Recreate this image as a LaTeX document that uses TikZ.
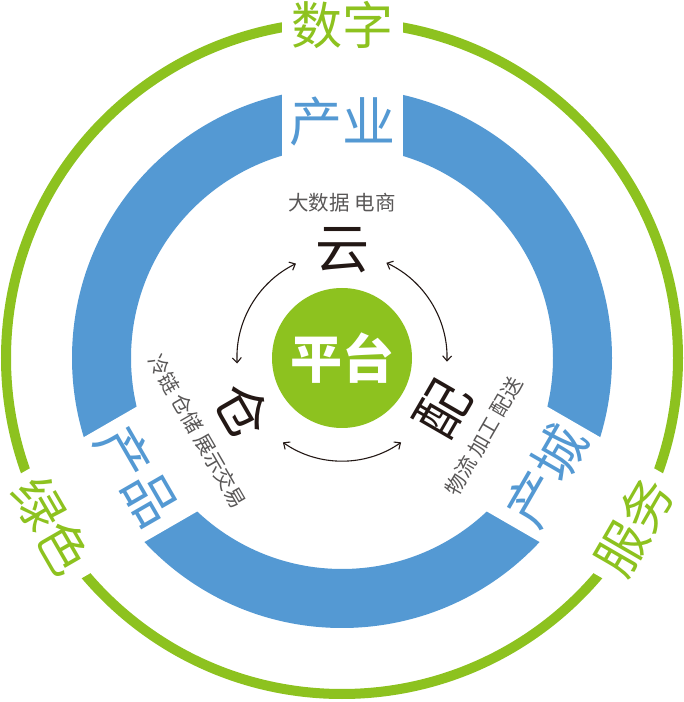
\documentclass[tikz,border=0pt]{standalone}
\usepackage{fontspec}
\newfontfamily\cjk{Noto Sans CJK SC}
\usetikzlibrary{arrows.meta,calc}
\definecolor{leaf}{HTML}{8DC21F}
\definecolor{sky}{HTML}{5499D3}
\definecolor{ash}{HTML}{595757}
\definecolor{ink}{HTML}{231815}
\tikzset{
  big/.style={font=\cjk\fontsize{51}{51}\selectfont, inner sep=0pt},
  bigblue/.style={big, text=sky, font=\cjk\fontsize{53}{53}\selectfont},
  biggreen/.style={big, text=leaf},
  core/.style={font=\cjk\fontsize{54}{54}\selectfont, text=ink, inner sep=0pt},
  small/.style={font=\cjk\fontsize{20.5}{20.5}\selectfont, text=ash, inner sep=0pt},
  arr/.style={draw=ink, line width=1.1pt, {Straight Barb[length=5pt,width=9pt]}-{Straight Barb[length=5pt,width=9pt]}},
}
\begin{document}
\begin{tikzpicture}[x=1pt,y=1pt]
\useasboundingbox (0,0) rectangle (684,702);
\fill[white] (0,0) rectangle (684,702);
\coordinate (C) at (342,344);
% green ring
\draw[leaf, line width=10pt] (C) circle[radius=336];
% blue ring
\fill[sky, even odd rule] (C) circle[radius=270] (C) circle[radius=211];
% gaps
\foreach \a in {90,210,330}{
  \begin{scope}[shift={(C)}, rotate=\a]
    \fill[white] (200,-60.5) rectangle (350,60.5);
  \end{scope}
}
% central disc
\fill[leaf] (C) circle[radius=70];
\node[font=\cjk\bfseries\fontsize{52}{52}\selectfont, text=white, inner sep=0pt] (pt) at (C) {平台};
% outer labels
\node[biggreen] (sz) at ($(C)+(90:333)$) {数字};
\node[biggreen, rotate=-60] (ls) at ($(C)+(210:335)$) {绿色};
\node[biggreen, rotate=60] (fw) at ($(C)+(330:337)$) {服务};
\node[bigblue] (cy) at ($(C)+(90:236)$) {产业};
\node[bigblue, rotate=-60] (cp) at ($(C)+(210:236)$) {产品};
\node[bigblue, rotate=60] (cc) at ($(C)+(330:236)$) {产城};
% inner labels
\node[small] (dsj) at ($(C)+(90:155.5)$) {大数据 电商};
\node[core] (yun) at ($(C)+(90:108)$) {云};
\node[core, rotate=-60] (cang) at ($(C)+(208:112)$) {仓};
\node[core, rotate=60] (pei) at ($(C)+(-27:113)$) {配};
\node[small, rotate=-60] (ll) at ($(C)+(207:162)$) {冷链 仓储 展示交易};
\node[small, rotate=60] (wl) at ($(C)+(-29:162)$) {物流 加工 配送};
% arrows
\draw[arr] ($(C)+(116:105)$) arc[start angle=116, end angle=183, radius=105];
\draw[arr] ($(C)+(65:105)$) arc[start angle=65, end angle=-2, radius=105];
\draw[arr] ($(C)+(235:103)$) arc[start angle=235, end angle=305, radius=103];
\end{tikzpicture}
\end{document}
